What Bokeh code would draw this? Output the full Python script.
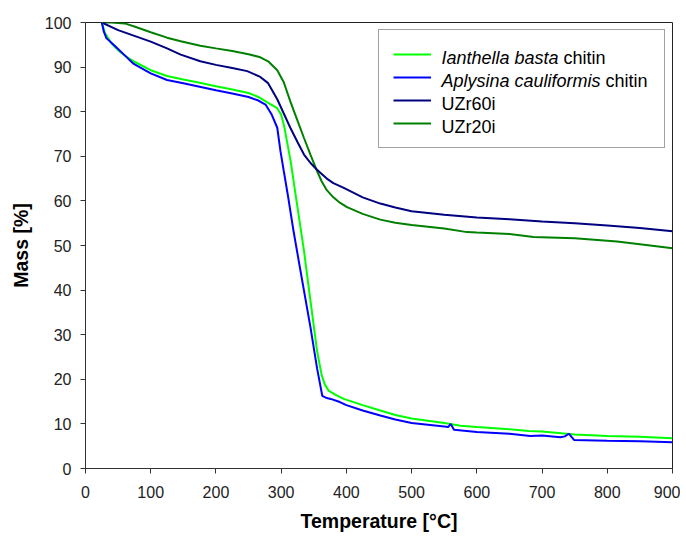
from bokeh.plotting import figure
from bokeh.models import Range1d, FixedTicker, Legend, LegendItem, Label
from bokeh.core.properties import value
from bokeh.embed import file_html
from bokeh.resources import INLINE

# ---------------- data ----------------
ianthella_T = [25, 30, 40, 50, 60, 75, 100, 125, 150, 175, 200, 225, 250, 265, 280, 294,
               300, 305, 310, 315, 320, 335, 345, 355, 362, 367, 373, 385, 396, 425, 452,
               475, 500, 525, 550, 575, 600, 650, 680, 700, 750, 800, 850, 900]
ianthella_M = [100, 97.6, 95.3, 93.8, 92.6, 91.2, 89.3, 88.0, 87.2, 86.5, 85.7, 85.0, 84.2, 83.3,
               82.0, 80.8, 79.3, 76.5, 72.5, 68.5, 63.5, 48.8, 37.5, 26.4, 21.0, 18.8, 17.4,
               16.4, 15.6, 14.2, 13.0, 12.0, 11.2, 10.7, 10.2, 9.6, 9.3, 8.8, 8.4, 8.3, 7.6,
               7.3, 7.1, 6.8]

aplysina_T = [25, 28, 32, 46, 59, 74, 100, 125, 150, 175, 200, 225, 250, 265, 276, 285, 294,
              299, 304, 310, 319, 330, 345, 355, 363, 370, 376, 390, 400, 425, 452, 475, 500,
              525, 550, 556, 560, 565, 600, 650, 682, 700, 728, 735, 741, 749, 800, 850, 900]
aplysina_M = [100, 98.0, 96.5, 94.6, 92.8, 90.7, 88.6, 87.1, 86.4, 85.6, 84.8, 84.1, 83.3, 82.5,
              81.6, 79.5, 76.4, 71.1, 66.7, 61.5, 53.2, 44.0, 31.6, 22.5, 16.3, 15.8, 15.6,
              14.9, 14.2, 13.0, 11.9, 11.0, 10.2, 9.8, 9.4, 9.3, 10.0, 8.7, 8.2, 7.8, 7.3,
              7.4, 7.0, 7.2, 7.8, 6.4, 6.2, 6.1, 5.9]

uzr60_T = [25, 50, 75, 100, 125, 146, 176, 200, 225, 248, 268, 280, 294, 304, 314, 325, 335,
           345, 355, 360, 370, 380, 396, 425, 452, 475, 500, 550, 600, 650, 700, 750, 800, 850, 900]
uzr60_M = [100, 98.3, 97.0, 95.7, 94.2, 92.8, 91.3, 90.5, 89.8, 89.1, 87.8, 86.4, 82.8, 79.6,
           76.4, 73.2, 70.4, 68.5, 67.0, 66.3, 65.0, 64.0, 62.9, 60.8, 59.4, 58.5, 57.7, 56.9,
           56.3, 55.9, 55.4, 55.0, 54.5, 53.9, 53.2]

uzr20_T = [25, 40, 60, 75, 100, 125, 146, 176, 200, 225, 250, 268, 280, 294, 304, 314, 325, 335,
           345, 355, 362, 370, 380, 390, 401, 425, 452, 475, 500, 550, 585, 600, 650, 687, 750,
           815, 850, 900]
uzr20_M = [100, 100, 99.8, 99.1, 97.8, 96.6, 95.8, 94.8, 94.2, 93.6, 92.9, 92.2, 91.3, 89.3,
           86.6, 82.3, 78.0, 74.1, 70.3, 66.7, 64.4, 62.4, 60.8, 59.6, 58.6, 57.1, 55.8, 55.1,
           54.6, 53.8, 53.0, 52.9, 52.6, 51.9, 51.6, 50.9, 50.3, 49.4]

x_ticks = [0, 100, 200, 300, 400, 500, 600, 700, 800, 900]
y_ticks = [0, 10, 20, 30, 40, 50, 60, 70, 80, 90, 100]

legend_italic = ["Ianthella basta", "Aplysina cauliformis", "", ""]
legend_plain = ["chitin", "chitin", "UZr60i", "UZr20i"]
colors = ["#00FF00", "#0000FF", "#000080", "#008000"]

# ---------------- figure ----------------
FONT = "Liberation Sans"
p = figure(width=680, height=536, output_backend="svg", toolbar_location=None,
           x_range=Range1d(0, 900), y_range=Range1d(0, 100),
           min_border_left=85, min_border_right=8, min_border_top=22, min_border_bottom=68)
p.background_fill_color = "white"
p.border_fill_color = "white"
p.outline_line_color = "#222222"
p.outline_line_width = 1
p.xgrid.visible = False
p.ygrid.visible = False

for ax, ticks in ((p.xaxis[0], x_ticks), (p.yaxis[0], y_ticks)):
    ax.ticker = FixedTicker(ticks=ticks)
    ax.minor_tick_line_color = None
    ax.major_tick_in = 0
    ax.major_tick_out = 5
    ax.axis_line_color = "#333333"
    ax.major_tick_line_color = "#333333"
    ax.major_label_text_font = FONT
    ax.major_label_text_font_size = "16px"
    ax.major_label_text_color = "#222222"
    ax.axis_label_text_font = FONT
    ax.axis_label_text_font_style = "bold"
    ax.axis_label_text_font_size = "19.5px"
    ax.axis_label_text_color = "black"

p.xaxis.axis_label = "Temperature [°C]"
p.yaxis.axis_label = "Mass [%]"
p.xaxis.major_label_standoff = 12
p.yaxis.major_label_standoff = 9
p.xaxis.axis_label_standoff = 9
p.yaxis.axis_label_standoff = 10

r_uzr20 = p.line(uzr20_T, uzr20_M, line_color=colors[3], line_width=2)
r_uzr60 = p.line(uzr60_T, uzr60_M, line_color=colors[2], line_width=2)
r_ian = p.line(ianthella_T, ianthella_M, line_color=colors[0], line_width=2)
r_apl = p.line(aplysina_T, aplysina_M, line_color=colors[1], line_width=2)

renderers = [r_ian, r_apl, r_uzr60, r_uzr20]
legend = Legend(items=[LegendItem(label=value(" "), renderers=[r]) for r in renderers],
                location=(293, 320), orientation="vertical", margin=0,
                padding=14, spacing=3, glyph_width=38, glyph_height=20,
                label_height=20, label_width=208, label_standoff=11,
                label_text_font_size="18px",
                border_line_color="#444444", border_line_width=1,
                background_fill_alpha=0)
p.add_layout(legend)

# legend texts (mixed italic / plain), placed in pixel offsets converted to data units
FX0, FX1, FY0, FY1 = 85.0, 672.0, 468.0, 22.0
def dx(px):
    return (px - FX0) * 900.0 / (FX1 - FX0)
def dy(py):
    return (FY0 - py) * 100.0 / (FY0 - FY1)

row_px = [57.5, 80.5, 103.5, 126.5]
plain_px = [563, 605, 441, 441]
for i in range(4):
    if legend_italic[i]:
        p.add_layout(Label(x=dx(441), y=dy(row_px[i]), text=legend_italic[i], level="overlay",
                           text_font=FONT, text_font_style="italic", text_font_size="18px",
                           text_baseline="middle", text_color="black"))
    p.add_layout(Label(x=dx(plain_px[i]), y=dy(row_px[i]), text=legend_plain[i], level="overlay",
                       text_font=FONT, text_font_size="18px",
                       text_baseline="middle", text_color="black"))

open("out.html", "w").write(file_html(p, INLINE))
